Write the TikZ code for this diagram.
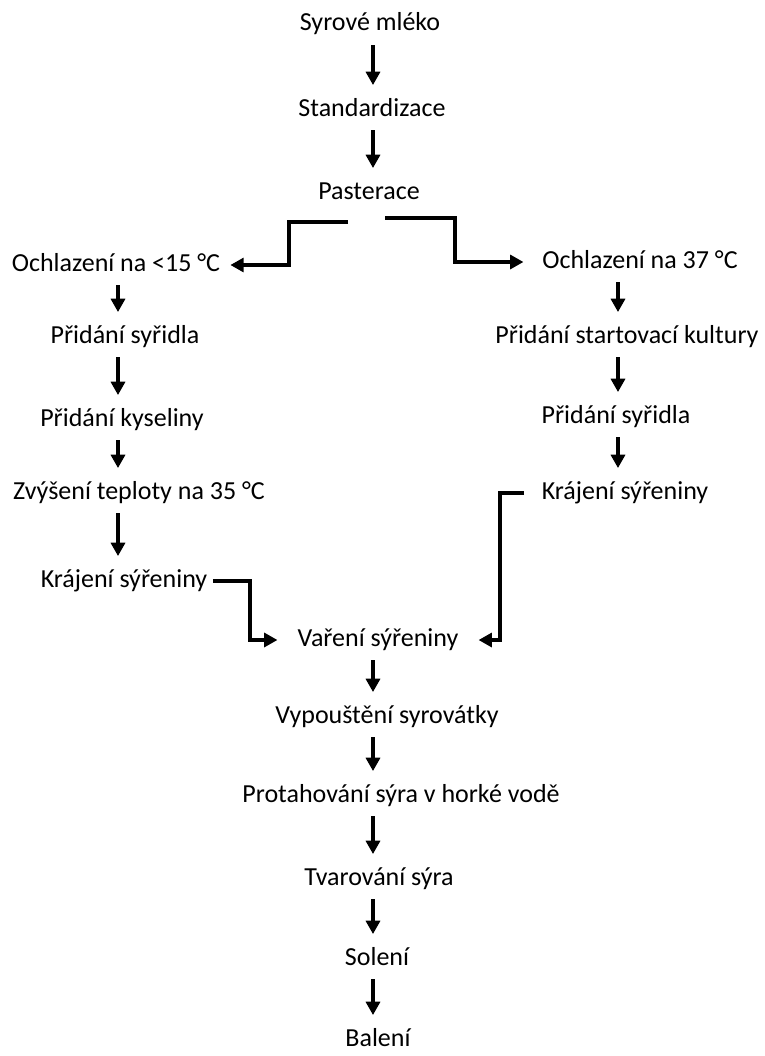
\documentclass[tikz,border=0pt]{standalone}
\usepackage{fontspec}
\setmainfont{Carlito}
\usetikzlibrary{arrows.meta}
\tikzset{
  krok/.style={font=\fontsize{19.5}{23}\selectfont, inner xsep=4pt, inner ysep=0pt,
    text height=12pt, text depth=3pt, minimum height=30pt},
  cara/.style={line width=2.4pt},
  sipka/.style={cara, -{Triangle[length=10pt,width=10.5pt]}, shorten >=3.5pt}
}
\newcommand{\krok}[3]{\node[krok] (#1) at (#2) {#3};}
\newcommand{\dolu}[3]{\draw[sipka] (#1.south -| #3) -- (#2.north -| #3);}
\begin{document}
\begin{tikzpicture}[x=0.75pt,y=-0.75pt]
\useasboundingbox (0,0) rectangle (764,1056);
\coordinate (osa) at (373,0);
\coordinate (osaL) at (118,0);
\coordinate (osaP) at (618,0);
\krok{mleko}{370,25}{Syrové mléko}
\krok{standard}{372,110}{Standardizace}
\krok{pasterace}{369,193}{Pasterace}
\krok{ochlL}{116,265}{Ochlazení na <15 °C}
\krok{syridloL}{125,337}{Přidání syřidla}
\krok{kyselina}{122,420}{Přidání kyseliny}
\krok{teplota}{139,493}{Zvýšení teploty na 35 °C}
\krok{krajeniL}{124,581}{Krájení sýřeniny}
\krok{ochlP}{640,262}{Ochlazení na 37 °C}
\krok{kultura}{627,337}{Přidání startovací kultury}
\krok{syridloP}{616,417}{Přidání syřidla}
\krok{krajeniP}{625,493}{Krájení sýřeniny}
\krok{vareni}{378,640}{Vaření sýřeniny}
\krok{vypousteni}{387,717}{Vypouštění syrovátky}
\krok{protahovani}{401,796}{Protahování sýra v horké vodě}
\krok{tvarovani}{379,879}{Tvarování sýra}
\krok{soleni}{377,959}{Solení}
\krok{baleni}{378,1040}{Balení}
\dolu{mleko}{standard}{osa}
\dolu{standard}{pasterace}{osa}
\dolu{ochlL}{syridloL}{osaL}
\dolu{syridloL}{kyselina}{osaL}
\dolu{kyselina}{teplota}{osaL}
\dolu{teplota}{krajeniL}{osaL}
\dolu{ochlP}{kultura}{osaP}
\dolu{kultura}{syridloP}{osaP}
\dolu{syridloP}{krajeniP}{osaP}
\dolu{vareni}{vypousteni}{osa}
\dolu{vypousteni}{protahovani}{osa}
\dolu{protahovani}{tvarovani}{osa}
\dolu{tvarovani}{soleni}{osa}
\dolu{soleni}{baleni}{osa}
\coordinate (odbL) at (348,222);
\coordinate (odbP) at (385,218);
\coordinate (lomL) at (289,0);
\coordinate (lomP) at (455,0);
\coordinate (lomK) at (250,0);
\coordinate (lomV) at (500,0);
\draw[sipka] (odbL) -| (lomL |- ochlL) -- (ochlL);
\draw[sipka, shorten >=10pt] (odbP) -| (lomP |- ochlP) -- (ochlP);
\draw[sipka, shorten >=11pt] (krajeniL.east) -| (lomK |- vareni) -- (vareni);
\draw[sipka, shorten <=9pt, shorten >=11pt] (krajeniP.west) -| (lomV |- vareni) -- (vareni);
\end{tikzpicture}
\end{document}
